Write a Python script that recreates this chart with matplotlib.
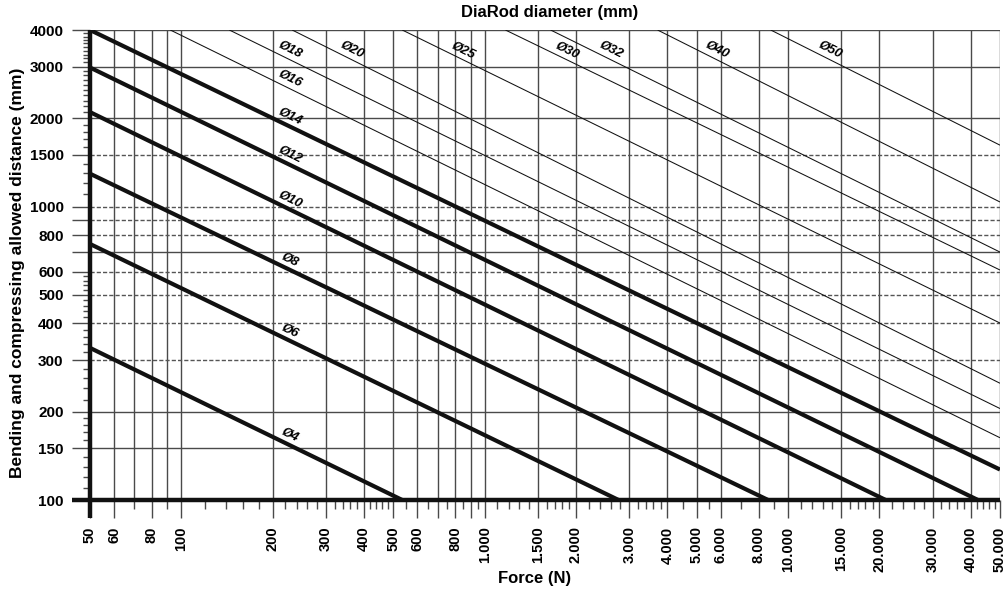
import numpy as np
import matplotlib
matplotlib.use("Agg")
import matplotlib.pyplot as plt
from matplotlib.ticker import FixedLocator, FixedFormatter, NullFormatter

plt.rcParams['font.family'] = ['Liberation Sans', 'DejaVu Sans']

# ---------------- data ----------------
diam_mm = [4, 6, 8, 10, 12, 14, 16, 18, 20, 25, 30, 32, 40, 50]
start_force = [50, 50, 50, 50, 50, 50, 92, 144, 232, 535, 1171, 1650, 3716, 8774]
start_dist = [330, 746, 1295, 2100, 2980, 4000, 4000, 4000, 4000, 4000, 4000, 4000, 4000, 4000]
end_force = [535, 2764, 8600, 21000, 42300, 50000, 50000, 50000, 50000, 50000, 50000, 50000, 50000, 50000]
end_dist = [100, 100, 100, 100, 100, 127, 163, 205, 250, 401, 608, 700, 1037, 1620]

x_major = [50, 60, 80, 100, 200, 300, 400, 500, 600, 800, 1000, 1500, 2000, 3000,
           4000, 5000, 6000, 8000, 10000, 15000, 20000, 30000, 40000, 50000]
x_major_labels = ["50", "60", "80", "100", "200", "300", "400", "500", "600", "800",
                  "1.000", "1.500", "2.000", "3.000", "4.000", "5.000", "6.000", "8.000",
                  "10.000", "15.000", "20.000", "30.000", "40.000", "50.000"]
x_unlabelled_grid = [700, 900]
x_minor = [70, 90, 120, 140, 160, 180, 220, 240, 260, 280, 320, 340, 360, 380,
           420, 440, 460, 480, 550, 650, 750, 850, 950, 1100, 1200, 1300, 1400,
           1600, 1700, 1800, 1900, 2200, 2400, 2600, 2800, 3200, 3400, 3600, 3800,
           4500, 5500, 7000, 9000, 11000, 12000, 13000, 14000, 16000, 17000, 18000,
           19000, 22000, 24000, 26000, 28000, 32000, 34000, 36000, 38000,
           42000, 44000, 46000, 48000]

y_major = [100, 150, 200, 300, 400, 500, 600, 800, 1000, 1500, 2000, 3000, 4000]
y_major_labels = ["100", "150", "200", "300", "400", "500", "600", "800", "1000",
                  "1500", "2000", "3000", "4000"]
y_unlabelled_grid = [700, 900]
y_minor = [110, 120, 130, 140, 160, 170, 180, 190, 220, 240, 260, 280, 320, 340, 360, 380,
           420, 440, 460, 480, 520, 540, 560, 580, 1100, 1200, 1300, 1400, 1600, 1700,
           1800, 1900, 2100, 2200, 2300, 2400, 2500, 2600, 2700, 2800, 2900,
           3100, 3200, 3300, 3400, 3500, 3600, 3700, 3800, 3900]
y_dashed = [300, 400, 500, 600, 800, 900, 1000, 1500]
y_solid = [150, 200, 700, 2000, 3000, 4000]
x_grid = [60, 70, 80, 90, 100, 200, 300, 400, 500, 600, 700, 800, 900, 1000, 1500,
          2000, 3000, 4000, 5000, 6000, 8000, 10000, 15000, 20000, 30000, 40000, 50000]

title = "DiaRod diameter (mm)"
xlabel = "Force (N)"
ylabel = "Bending and compressing allowed distance (mm)"

# ---------------- figure ----------------
W, H = 1007, 592
fig = plt.figure(figsize=(W / 100, H / 100), dpi=100)
ax = fig.add_axes([90 / W, 1 - 500 / H, 910 / W, 470 / H])
ax.set_xscale('log')
ax.set_yscale('log')
ax.set_xlim(50, 50000)
ax.set_ylim(100, 4000)

grid_c = '#4a4a4a'
for xv in x_grid:
    ax.axvline(xv, color=grid_c, lw=1.0, zorder=1)
for yv in y_solid:
    ax.axhline(yv, color=grid_c, lw=1.0, zorder=1)
for yv in y_dashed:
    ax.axhline(yv, color='#555555', lw=1.0, ls=(0, (3, 1.5)), zorder=1)

for s in ax.spines.values():
    s.set_visible(False)

# ticks
ax.xaxis.set_major_locator(FixedLocator(x_major + x_unlabelled_grid))
ax.xaxis.set_major_formatter(FixedFormatter(x_major_labels + ["", ""]))
ax.xaxis.set_minor_locator(FixedLocator(x_minor))
ax.xaxis.set_minor_formatter(NullFormatter())
ax.yaxis.set_major_locator(FixedLocator(y_major + y_unlabelled_grid))
ax.yaxis.set_major_formatter(FixedFormatter(y_major_labels + ["", ""]))
ax.yaxis.set_minor_locator(FixedLocator(y_minor))
ax.yaxis.set_minor_formatter(NullFormatter())

ax.tick_params(axis='x', which='major', direction='out', length=13, width=1.0,
               color=grid_c, pad=6, labelsize=10.5, labelrotation=90)
ax.tick_params(axis='x', which='minor', direction='out', length=6.5, width=1.0, color=grid_c)
ax.tick_params(axis='y', which='major', direction='out', length=13, width=1.0,
               color=grid_c, pad=6, labelsize=11)
ax.tick_params(axis='y', which='minor', direction='out', length=5, width=1.0, color=grid_c)
for lab in ax.get_xticklabels():
    lab.set_fontweight('bold')
    lab.set_verticalalignment('top')
for lab in ax.get_yticklabels():
    lab.set_fontweight('bold')

# thick axes (left and bottom), extended like ticks
ax.plot([50, 50], [100 * 10 ** (-18 / 293.4), 4000], color='#111111', lw=3.2, clip_on=False,
        zorder=5, solid_capstyle='butt')
ax.plot([50 * 10 ** (-18 / 303), 50000], [100, 100], color='#111111', lw=3.2, clip_on=False,
        zorder=5, solid_capstyle='butt')

# diameter lines
fig.canvas.draw()
for d, f0, l0, f1, l1 in zip(diam_mm, start_force, start_dist, end_force, end_dist):
    heavy = d <= 14
    ax.plot([f0, f1], [l0, l1], color='#111111', lw=3.0 if heavy else 0.75,
            solid_capstyle='butt', zorder=4)
    # label anchor along the line
    slope = np.log10(l1 / l0) / np.log10(f1 / f0)
    f_lab = 228.0
    f_top = f0 * (3160.0 / l0) ** (1 / slope)
    f_lab = max(f_lab, f_top)
    l_lab = l0 * (f_lab / f0) ** slope
    p0 = ax.transData.transform((f0, l0))
    p1 = ax.transData.transform((f1, l1))
    ang = np.degrees(np.arctan2(p1[1] - p0[1], p1[0] - p0[0]))
    ax.annotate(f"Ø{d}", xy=(f_lab, l_lab), xytext=(0, 7), textcoords='offset points',
                rotation=ang, rotation_mode='anchor', ha='center', va='center',
                fontsize=9.5, fontstyle='italic', fontweight='bold', zorder=6)

fig.text(550 / W, 1 - 13 / H, title, ha='center', va='center', fontsize=12, fontweight='bold')
fig.text(535 / W, 1 - 579 / H, xlabel, ha='center', va='center', fontsize=12, fontweight='bold')
fig.text(18 / W, 1 - 273 / H, ylabel, ha='center', va='center', rotation=90,
         fontsize=12.5, fontweight='bold')

fig.savefig("out.png", dpi=100)
